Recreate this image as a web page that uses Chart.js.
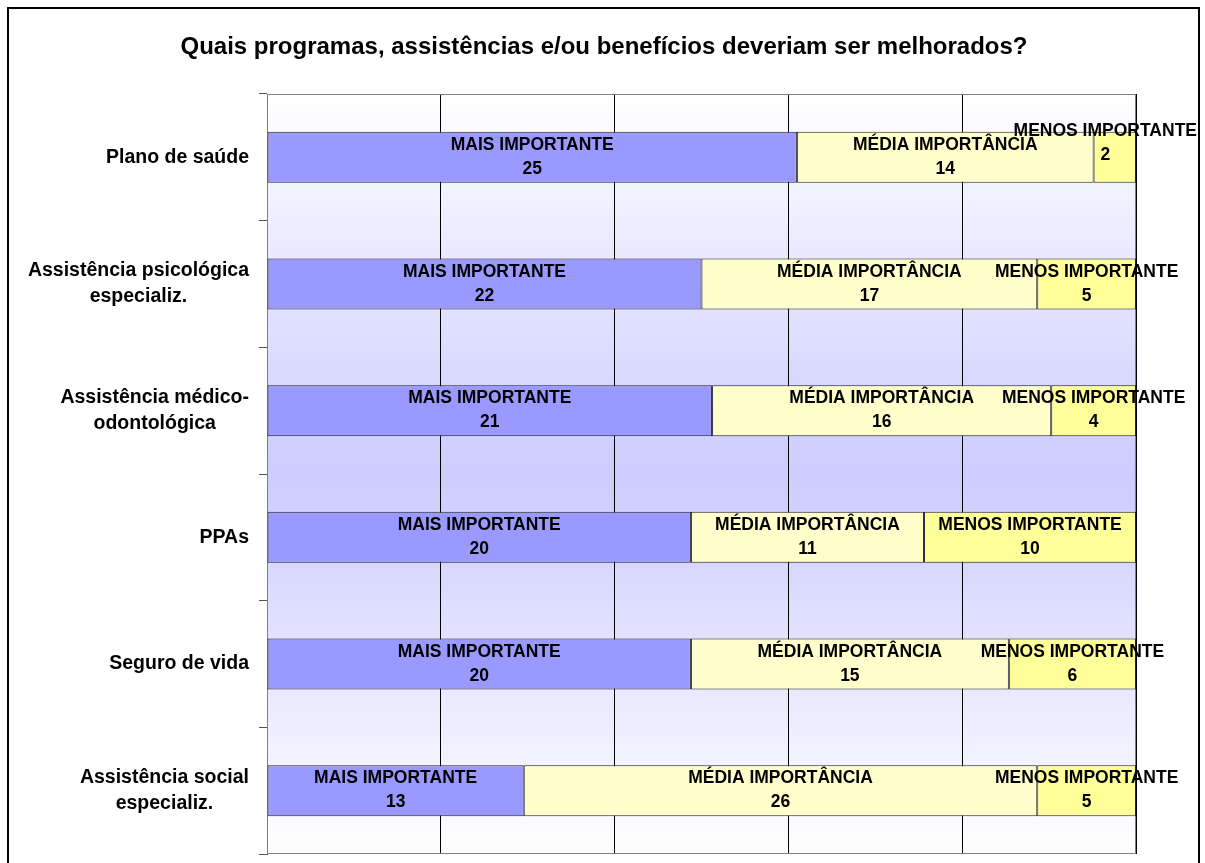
<!DOCTYPE html>
<html>
<head>
<meta charset="utf-8">
<script src="https://cdn.jsdelivr.net/npm/chart.js@4.4.0/dist/chart.umd.min.js"></script>
<style>
html, body { margin: 0; padding: 0; background: #fff; }
</style>
</head>
<body>
<canvas id="chart" width="1205" height="863"></canvas>
<script>
// data
var categories = [
    ["Plano de saúde"],
    ["Assistência psicológica", "especializ."],
    ["Assistência médico-", "odontológica"],
    ["PPAs"],
    ["Seguro de vida"],
    ["Assistência social", "especializ."]
];
var seriesNames = ["MAIS IMPORTANTE", "MÉDIA IMPORTÂNCIA", "MENOS IMPORTANTE"];
var maisImportante = [25, 22, 21, 20, 20, 13];
var mediaImportancia = [14, 17, 16, 11, 15, 26];
var menosImportante = [2, 5, 4, 10, 6, 5];
var xTicks = [0, 20, 40, 60, 80, 100];
var chartTitle = 'Quais programas, assistências e/ou benefícios deveriam ser melhorados?';

var rawSeries = [maisImportante, mediaImportancia, menosImportante];
var colors = ['#9999ff', '#ffffcc', '#ffff99'];

// 100% stacked: turn counts into shares of each row total
var totals = categories.map(function(c, i) {
    return maisImportante[i] + mediaImportancia[i] + menosImportante[i];
});
function pct(arr) {
    return arr.map(function(v, i) { return v / totals[i] * 100; });
}

var FONT = '"Liberation Sans", Arial, sans-serif';

var backgroundPlugin = {
    id: 'bg',
    beforeDraw: function(chart) {
        var ctx = chart.ctx, a = chart.chartArea;
        ctx.save();
        ctx.fillStyle = '#fff';
        ctx.fillRect(0, 0, chart.width, chart.height);
        var g = ctx.createLinearGradient(0, a.top, 0, a.bottom);
        g.addColorStop(0, '#ffffff');
        g.addColorStop(0.5, '#ccccff');
        g.addColorStop(1, '#ffffff');
        ctx.fillStyle = g;
        ctx.fillRect(a.left, a.top, a.right - a.left, a.bottom - a.top);
        // outer frame
        ctx.strokeStyle = '#000';
        ctx.lineWidth = 2;
        ctx.strokeRect(8, 8, chart.width - 14, chart.height + 20);
        ctx.restore();
    },
    beforeDatasetsDraw: function(chart) {
        var ctx = chart.ctx, a = chart.chartArea;
        ctx.save();
        ctx.strokeStyle = '#808080';
        ctx.lineWidth = 1;
        ctx.strokeRect(Math.round(a.left) + 0.5, Math.round(a.top) + 0.5,
            Math.round(a.right - a.left) - 1, Math.round(a.bottom - a.top) - 1);
        ctx.restore();
    }
};

var labelPlugin = {
    id: 'segLabels',
    afterDatasetsDraw: function(chart) {
        var ctx = chart.ctx;
        ctx.save();
        ctx.font = 'bold 17.5px ' + FONT;
        ctx.fillStyle = '#000';
        ctx.textAlign = 'center';
        ctx.textBaseline = 'middle';
        var maxRight = chart.width - 8;
        var prevRight = [];
        chart.data.datasets.forEach(function(ds, di) {
            var meta = chart.getDatasetMeta(di);
            meta.data.forEach(function(bar, i) {
                var cx = (bar.x + bar.base) / 2;
                var name = seriesNames[di];
                var val = String(rawSeries[di][i]);
                var w = Math.max(ctx.measureText(name).width, ctx.measureText(val).width);
                var dy = 0;
                if (cx + w / 2 > maxRight) {
                    cx = maxRight - w / 2;
                    // pushed against the edge and crowding the previous label: lift it
                    if (prevRight[i] !== undefined && cx - w / 2 < prevRight[i] + 20) dy = -14;
                }
                ctx.fillText(name, cx, bar.y - 12 + dy);
                ctx.fillText(val, cx, bar.y + 12 + dy);
                prevRight[i] = cx + w / 2;
            });
        });
        ctx.restore();
    },
    afterDraw: function(chart) {
        var ctx = chart.ctx, y = chart.scales.y;
        ctx.save();
        ctx.fillStyle = '#000';
        ctx.textAlign = 'center';
        ctx.textBaseline = 'middle';
        ctx.font = 'bold 24px ' + FONT;
        ctx.fillText(chartTitle, 604, 47);
        // category names: block right aligned, lines centred in the block
        ctx.font = 'bold 19.5px ' + FONT;
        var right = chart.chartArea.left - 18;
        categories.forEach(function(lines, i) {
            var w = 0;
            lines.forEach(function(l) { w = Math.max(w, ctx.measureText(l).width); });
            var cy = y.getPixelForValue(i);
            var lh = 26;
            var top = cy - (lines.length - 1) * lh / 2;
            lines.forEach(function(l, k) {
                ctx.fillText(l, right - w / 2, top + k * lh);
            });
        });
        ctx.restore();
    }
};

new Chart(document.getElementById('chart'), {
    type: 'bar',
    data: {
        labels: categories,
        datasets: [
            { label: seriesNames[0], data: pct(maisImportante), backgroundColor: colors[0] },
            { label: seriesNames[1], data: pct(mediaImportancia), backgroundColor: colors[1] },
            { label: seriesNames[2], data: pct(menosImportante), backgroundColor: colors[2] }
        ]
    },
    options: {
        indexAxis: 'y',
        responsive: false,
        animation: false,
        devicePixelRatio: 1,
        layout: { padding: { left: 259, right: 69, top: 94, bottom: 9 } },
        datasets: {
            bar: {
                borderColor: '#222',
                borderWidth: 1,
                borderSkipped: false,
                categoryPercentage: 1,
                barPercentage: 0.403
            }
        },
        plugins: {
            legend: { display: false },
            tooltip: { enabled: false },
            title: { display: false }
        },
        scales: {
            x: {
                stacked: true,
                min: xTicks[0],
                max: xTicks[xTicks.length - 1],
                afterBuildTicks: function(axis) {
                    axis.ticks = xTicks.map(function(v) { return { value: v }; });
                },
                ticks: { display: false },
                grid: { color: '#000', drawTicks: false },
                border: { display: false }
            },
            y: {
                stacked: true,
                ticks: { display: false },
                grid: { drawOnChartArea: false, drawTicks: true, tickLength: 8, color: '#555', offset: true },
                border: { display: true, color: '#666' }
            }
        }
    },
    plugins: [backgroundPlugin, labelPlugin]
});
</script>
</body>
</html>
